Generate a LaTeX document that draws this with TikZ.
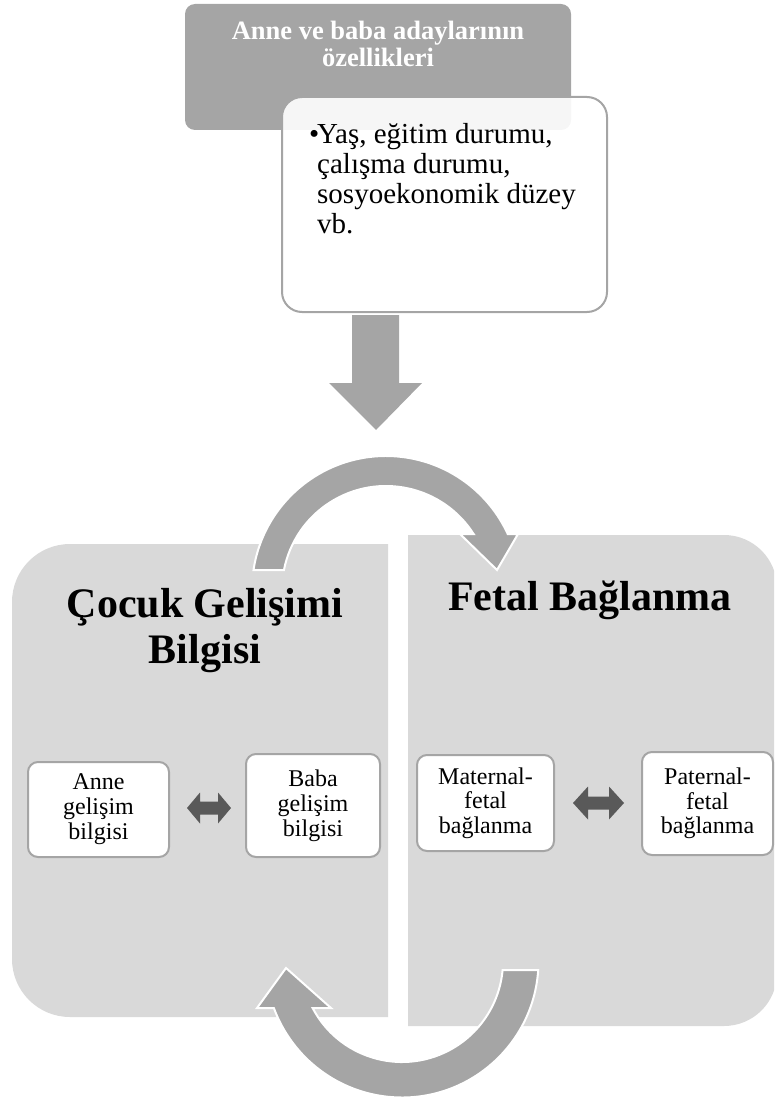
\documentclass[tikz,border=0pt]{standalone}
\usepackage{fontspec}
\setmainfont{Liberation Serif}
\usetikzlibrary{calc}
\definecolor{midgrey}{HTML}{A5A5A5}
\definecolor{panelgrey}{HTML}{D9D9D9}
\definecolor{darkgrey}{HTML}{595959}
\begin{document}
\begin{tikzpicture}[x=1pt,y=-1pt,
  headbox/.style={fill=midgrey,rounded corners=10pt,inner sep=0pt},
  notebox/.style={fill=white,fill opacity=0.9,draw=midgrey,line width=2pt,rounded corners=20pt,inner sep=0pt},
  smallbox/.style={fill=white,draw=midgrey,line width=2pt,rounded corners=10pt,inner sep=0pt,align=center},
  blockarrow/.style={fill=midgrey},
  cyclearrow/.style={fill=midgrey,draw=white,line width=2pt,line join=miter},
  twoway/.style={fill=darkgrey},
  paneltitle/.style={font=\bfseries\fontsize{42}{46}\selectfont,align=center,inner sep=0pt,anchor=base},
  lefttext/.style={font=\fontsize{24}{25}\selectfont},
  righttext/.style={font=\fontsize{24}{24.5}\selectfont}]
\clip (0,0) rectangle (774,1097);

% header box and its note (base anchors of multi-line nodes sit on the last line)
\node[headbox,minimum width=386pt,minimum height=126pt] (head) at (378,67) {};
\node[font=\bfseries\fontsize{26.5}{27}\selectfont,text=white,align=center,inner sep=0pt,anchor=base] (headtext) at (378,67) {Anne ve baba adaylarının\\özellikleri};
\node[notebox,minimum width=325pt,minimum height=215pt] (note) at (444.5,204.5) {};
\node[font=\fontsize{29}{30}\selectfont,inner sep=0pt,anchor=base west] (bullet) at (309,143) {•};
\node[font=\fontsize{29}{30}\selectfont,align=left,inner sep=0pt,anchor=base west] (notetext) at (317,233) {Yaş, eğitim durumu,\\çalışma durumu,\\sosyoekonomik düzey\\vb.};

% downward block arrow
\fill[blockarrow] (352,315) -- (399,315) -- (399,383) -- (422,383) -- (376,430) -- (329,383) -- (352,383) -- cycle;

% the two panels
\fill[panelgrey] (388,544) -- (388,1017) -- (70,1017) arc[start angle=90,end angle=180,radius=58] -- (12,602) arc[start angle=180,end angle=270,radius=58] -- cycle;
\fill[panelgrey] (408,535) -- (724,535) arc[start angle=270,end angle=360,radius=53] -- (777,973) arc[start angle=0,end angle=90,radius=53] -- (408,1026) -- cycle;

\node[paneltitle] (lefttitle) at (205,663) {Çocuk Gelişimi\\Bilgisi};
\node[paneltitle] (righttitle) at (590,610) {Fetal Bağlanma};

% inner boxes
\node[smallbox,lefttext,minimum width=141pt,minimum height=95pt] (anne) at (98.5,809.5) {Anne\\gelişim\\bilgisi};
\node[smallbox,lefttext,minimum width=134pt,minimum height=103pt] (baba) at (313,805.5) {Baba\\gelişim\\bilgisi};
\node[smallbox,righttext,minimum width=137pt,minimum height=96pt] (maternal) at (485.5,803) {Maternal-\\fetal\\bağlanma};
\node[smallbox,righttext,minimum width=131pt,minimum height=103pt] (paternal) at (707.5,803.5) {Paternal-\\fetal\\bağlanma};

% two-way arrows between the inner boxes
\fill[twoway] (187,808) -- (200,792.5) -- (200,801.5) -- (218,801.5) -- (218,792.5) -- (231,808) -- (218,823.5) -- (218,814.5) -- (200,814.5) -- (200,823.5) -- cycle;
\fill[twoway] (573,803) -- (588,786.5) -- (588,796.5) -- (609,796.5) -- (609,786.5) -- (624,803) -- (609,819.5) -- (609,809.5) -- (588,809.5) -- (588,819.5) -- cycle;

% circular arrows linking the panels
\coordinate (c1) at (386,590);
\coordinate (c2) at (402,961);
\path[cyclearrow] ($(c1)+(188.58:134)$) arc[start angle=188.58,end angle=335.30,radius=134]
  -- (518,534) -- (497,570) -- (460,534) -- ($(c1)+(327.42:104)$)
  arc[start angle=327.42,end angle=191.09,radius=104] -- cycle;
\path[cyclearrow] ($(c2)+(5.11:101)$) -- ($(c2)+(3.78:136.5)$)
  arc[start angle=3.78,end angle=159.86,radius=136.5]
  -- (257,1008) -- (286,968) -- (331,1008) -- ($(c2)+(152.27:101)$)
  arc[start angle=152.27,end angle=5.11,radius=101] -- cycle;
\end{tikzpicture}
\end{document}
